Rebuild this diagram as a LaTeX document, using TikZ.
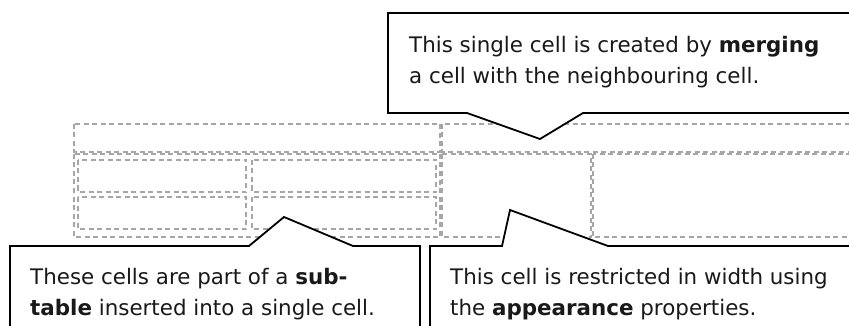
\documentclass[tikz,border=0pt]{standalone}
\usepackage{fontspec}
\setmainfont{DejaVu Sans}
\begin{document}
\begin{tikzpicture}[x=1pt, y=-1pt,
    cellbox/.style={draw=black!35, line width=1.3pt, dash pattern=on 5pt off 3.5pt},
    callout/.style={draw=black, fill=white, line width=1.8pt, line join=miter},
    note/.style={anchor=base west, inner sep=0pt, align=left, text=black!90, font=\fontsize{21.4}{31}\selectfont}]
    \useasboundingbox (0,0) rectangle (849,326);
    \clip (0,0) rectangle (849,326);
    % main table
    \draw[cellbox] (74,124) rectangle (440,152);
    \draw[cellbox] (442,124) rectangle (860,152);
    \draw[cellbox] (74,154) rectangle (440,237);
    \draw[cellbox] (442,154) rectangle (591,237);
    \draw[cellbox] (593,154) rectangle (860,237);
    % sub-table
    \draw[cellbox] (78,160) rectangle (246,192);
    \draw[cellbox] (252,160) rectangle (436,192);
    \draw[cellbox] (78,197) rectangle (246,229);
    \draw[cellbox] (252,197) rectangle (436,229);

    \coordinate (mergetip) at (540,139);
    \coordinate (subtip) at (284,217);
    \coordinate (widthtip) at (510,210);

    \draw[callout] (388,13) -- (860,13) -- (860,113) -- (583,113) -- (mergetip) -- (467,113) -- (388,113) -- cycle;
    \draw[callout] (10,246) -- (249,246) -- (subtip) -- (353,246) -- (420,246) -- (420,340) -- (10,340) -- cycle;
    \draw[callout] (430,246) -- (502,246) -- (widthtip) -- (608,246) -- (860,246) -- (860,340) -- (430,340) -- cycle;

    % text sits on the baseline of its last line
    \node[note] (merge) at (409,84) {This single cell is created by \textbf{merging}\\a cell with the neighbouring cell.};
    \node[note] (subtable) at (30,315) {These cells are part of a \textbf{sub-}\\\textbf{table} inserted into a single cell.};
    \node[note] (width) at (450,315) {This cell is restricted in width using\\the \textbf{appearance} properties.};
\end{tikzpicture}
\end{document}
